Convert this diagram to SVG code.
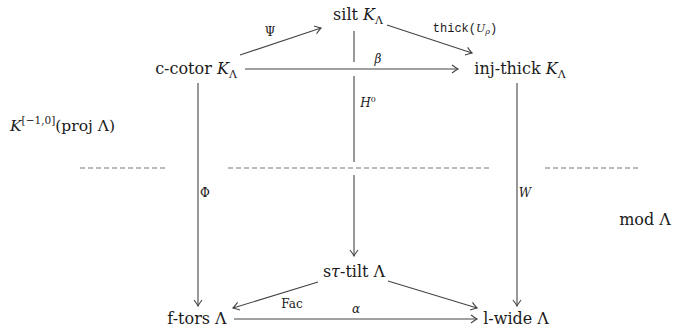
<svg xmlns="http://www.w3.org/2000/svg" width="684" height="329" viewBox="0 0 684 329">
<defs>
<style>
.n{font-size:16px;text-anchor:middle}
.sub{font-size:11px}
.lab{font-size:12px;text-anchor:middle}
.it{font-style:italic}
.ar{stroke:#444;stroke-width:1.1;fill:none;marker-end:url(#ah)}
.ln{stroke:#444;stroke-width:1.1;fill:none}
.dash{stroke:#777;stroke-width:1;stroke-dasharray:5 3;fill:none}
</style>
<marker id="ah" viewBox="-8 -5 10 10" refX="0" refY="0" markerWidth="10" markerHeight="10" markerUnits="userSpaceOnUse" orient="auto">
<path d="M-6,-4 Q-2,-1 0,0 Q-2,1 -6,4" stroke="#444" stroke-width="1.1" fill="none"/>
</marker>
</defs>
<rect width="684" height="329" fill="#fff"/>

<g id="separators">
<line class="dash" x1="80" y1="168" x2="168" y2="168"/>
<line class="dash" x1="228" y1="168" x2="490" y2="168"/>
<line class="dash" x1="545" y1="168" x2="640" y2="168"/>
</g>

<g font-family="'DejaVu Serif', 'Liberation Serif', serif" fill="#1a1a1a">
<g id="connectors">
<line class="ar" x1="240" y1="55" x2="321" y2="28"/>
<line class="ar" x1="387" y1="25" x2="472" y2="53"/>
<line class="ar" x1="245" y1="69" x2="458" y2="69"/>
<line class="ln" x1="354" y1="31" x2="354" y2="62"/>
<line class="ln" x1="354" y1="76" x2="354" y2="162"/>
<line class="ar" x1="354" y1="175" x2="354" y2="256"/>
<line class="ar" x1="198" y1="83" x2="198" y2="306"/>
<line class="ar" x1="517" y1="83" x2="517" y2="306"/>
<line class="ar" x1="318" y1="282" x2="233" y2="308"/>
<line class="ar" x1="388" y1="281" x2="477" y2="308"/>
<line class="ar" x1="234" y1="319" x2="477" y2="319"/>
<text class="lab" x="270" y="36" font-size="11">Ψ</text>
<text class="lab" x="465" y="32" font-family="'Liberation Mono', monospace" font-size="11">thick(<tspan class="it" font-family="'DejaVu Serif', serif" font-size="11">U</tspan><tspan class="it" font-family="'DejaVu Serif', serif" font-size="8" dy="2">ρ</tspan><tspan dy="-2">)</tspan></text>
<text class="lab it" x="378" y="63">β</text>
<text class="lab" x="368" y="107"><tspan class="it">H</tspan><tspan font-size="8" dy="-5">0</tspan></text>
<text class="lab" x="205" y="197" font-size="11">Φ</text>
<text class="lab it" x="525" y="197" font-size="11">W</text>
<text class="lab" x="292" y="308" font-size="11">Fac</text>
<text class="lab it" x="356" y="313">α</text>
</g>

<g id="silt">
<text class="n" x="358" y="20">silt <tspan class="it">K</tspan><tspan class="sub" dy="4">Λ</tspan></text>
</g>
<g id="c-cotor">
<text class="n" x="196" y="74">c-cotor <tspan class="it">K</tspan><tspan class="sub" dy="4">Λ</tspan></text>
</g>
<g id="inj-thick">
<text class="n" x="520" y="74">inj-thick <tspan class="it">K</tspan><tspan class="sub" dy="4">Λ</tspan></text>
</g>
<g id="homotopy">
<text x="10" y="131" font-size="15.5"><tspan class="it">K</tspan><tspan font-size="10.5" dy="-7">[−1,0]</tspan><tspan dy="7">(proj Λ)</tspan></text>
</g>
<g id="mod">
<text class="n" x="645" y="225">mod Λ</text>
</g>
<g id="stau-tilt">
<text class="n" x="354" y="277">s<tspan class="it">τ</tspan>-tilt Λ</text>
</g>
<g id="f-tors">
<text class="n" x="197" y="324">f-tors Λ</text>
</g>
<g id="l-wide">
<text class="n" x="516" y="324">l-wide Λ</text>
</g>
</g>
</svg>
